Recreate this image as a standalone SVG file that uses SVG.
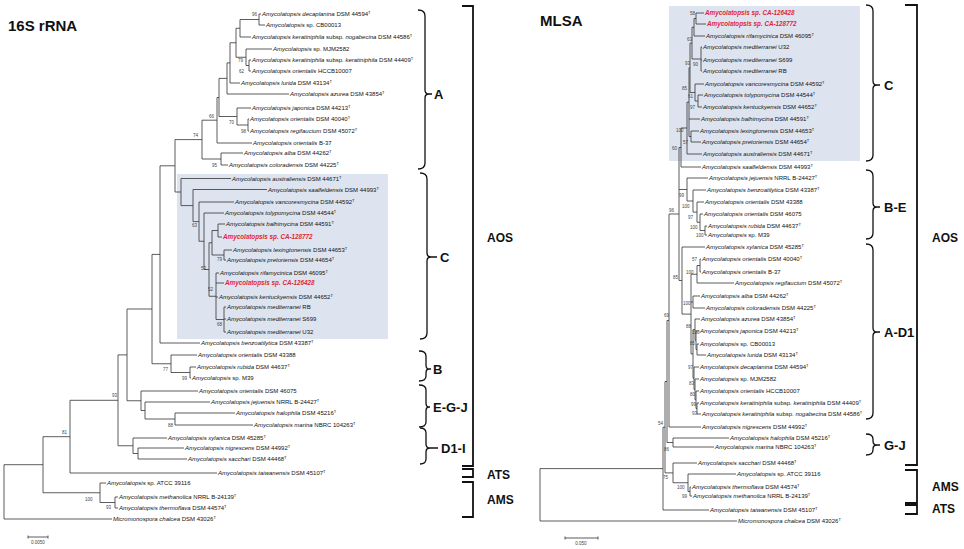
<svg xmlns="http://www.w3.org/2000/svg" width="964" height="549" viewBox="0 0 964 549">
<style>
text{font-family:"Liberation Sans",Arial,sans-serif;fill:#111}
.t{font-size:6px}
.i{font-style:italic}
.r{font-size:6.3px;font-weight:bold;font-style:italic;fill:#e3262b}
.s{font-size:4px}
.b{font-size:4.5px;fill:#444}
.cl{font-size:13px;font-weight:bold}
.big{font-size:12px;font-weight:bold}
.ti{font-size:15px;font-weight:bold}
.tree{fill:none;stroke:#333;stroke-width:0.8}
.br{fill:none;stroke:#111;stroke-width:1.3}
.sq{fill:none;stroke:#111;stroke-width:1.8}
.box{fill:#dde4f0}
</style>
<rect width="964" height="549" fill="#fff"/>
<rect class="box" x="177" y="174" width="211" height="165"/>
<rect class="box" x="669" y="6" width="191" height="155"/>
<text class="ti" x="8" y="31">16S rRNA</text>
<text class="ti" x="540" y="26">MLSA</text>
<g id="connectors">
<path class="tree" d="M259 14H261 M259 25H265 M240 37H251 M246 49H272 M249 60H251 M249 71H251 M230 83H240 M227 94H289 M237 108H251 M248 119H249 M248 131H249 M217 143H252 M221 153H243 M221 165H228 M181 178.5H231 M193 189.5H267 M199 202H234 M204 213H224 M218 224H225 M218 237H222 M224 250H232 M224 260H226 M216 273H219 M216 283H224 M216 297H218 M224 307H226 M224 319H226 M224 332H226 M160 343H200 M171 355H197 M190 367H196 M190 378H191 M141 391H198 M145 402H210 M175 413H235 M175 425H253 M133 438H167 M138 448H184 M138 459H187 M70 473H217 M100 483H106 M115 497H118 M115 508H118 M4 519H112
M259 14V25 M240 19.5H259 M240 19.5V37 M236 28.25H240 M249 60V71 M246 65.5H249 M246 49V65.5 M236 57.25H246 M236 28.25V57.25 M230 42.75H236 M230 42.75V83 M227 62.9H230 M227 62.9V94 M219 78.4H227 M248 119V131 M237 125H248 M237 108V125 M219 116.5H237 M219 78.4V116.5 M217 97.5H219 M217 97.5V143 M202 120.2H217 M221 153V165 M202 159H221 M202 120.2V159 M175 139.6H202
M224 307V332 M216 319.5H224 M216 273V319.5 M209 296.25H216 M218 224V237 M212 230.5H218 M224 250V260 M212 255H224 M212 230.5V255 M209 242.75H212 M209 242.75V296.25 M204 269.5H209 M204 213V269.5 M199 241.25H204 M199 202V241.25 M193 221.6H199 M193 189.5V221.6 M181 205.6H193 M181 178.5V205.6 M175 192H181 M175 139.6V192 M160 165.8H175 M160 165.8V343 M152 254.4H160
M190 367V378 M171 372.5H190 M171 355V372.5 M152 363.75H171 M152 254.4V363.75 M127 309H152 M175 413V425 M145 419H175 M145 402V419 M141 410.5H145 M141 391V410.5 M127 400.75H141 M127 309V400.75 M118 354.9H127 M138 448V459 M133 453.5H138 M133 438V453.5 M118 445.75H133 M118 354.9V445.75 M70 400.3H118 M70 400.3V473 M43 436.7H70 M115 497V508 M100 502.5H115 M100 483V502.5 M43 492.75H100 M43 436.7V492.75 M4 464.7H43 M4 464.7V519"/>
<path class="tree" d="M696 13H704 M696 24H706 M694 36H705 M701 47H702 M701 60H702 M701 71H702 M695 84H704 M698 95H703 M698 107H702 M689 119H700 M691 131H699 M691 142H701 M687 154H702 M681 167H701 M687 178H708 M693 190H706 M697 202H704 M700 214H703 M705 226H707 M705 235H707 M682 247H705 M700 259H701 M700 272H701 M697 283H734 M693 296H700 M693 308H705 M695 319H700 M696 331H699 M697 344H699 M697 355H706 M694 367H699 M695 379H699 M696 391H699 M697 403H699 M697 414H701 M669 427H701 M673 438H729 M673 447H714 M673 463H697 M688 474H736 M690 487H691 M690 496H692 M663 510H709 M540 521H737
M696 13V24 M694 18.5H696 M694 18.5V36 M692 27.25H694 M701 47V71 M692 59H701 M692 27.25V59 M690 43.1H692 M698 95V107 M695 101H698 M695 84V101 M690 92.5H695 M690 43.1V92.5 M689 67.8H690 M691 131V142 M689 136.5H691 M689 67.8V136.5 M687 102.1H689 M687 102.1V154 M681 128H687 M681 128V167 M679 147.5H681
M705 226V235 M700 230.5H705 M700 214V230.5 M697 222.25H700 M697 202V222.25 M693 212.1H697 M693 190V212.1 M687 201H693 M687 178V201 M679 189.5H687
M700 259V272 M697 265.5H700 M697 265.5V283 M691 274.25H697 M693 296V308 M691 302H693 M697 344V355 M696 349.5H697 M696 331V349.5 M695 340.25H696 M695 319V340.25 M693 329.6H695 M697 403V414 M696 408.5H697 M696 391V408.5 M695 399.75H696 M695 379V399.75 M694 389.4H695 M694 367V389.4 M693 378.2H694 M693 329.6V378.2 M691 353.9H693 M691 274.25V353.9 M682 314.1H691 M682 247V314.1 M679 280.5H682 M679 147.5V280.5 M669 214H679
M669 214V427 M667 320.5H669 M673 438V447 M667 442.5H673 M667 320.5V442.5 M665 381.5H667 M690 487V496 M688 491.5H690 M688 474V491.5 M673 482.75H688 M673 463V482.75 M665 472.9H673 M665 381.5V472.9 M663 427.2H665 M663 427.2V510 M540 468.6H663 M540 468.6V521"/>
<path class="tree" d="M28 537H48 M28 535.5V538.5 M48 535.5V538.5 M565 538H598 M565 536.5V539.5 M598 536.5V539.5"/>
</g>
<g id="scale">
<text class="b" x="38" y="544" text-anchor="middle">0.0050</text>
<text class="b" x="581" y="545" text-anchor="middle">0.050</text>
</g>
<g id="left-leaves">
<g id="l1"><text class="t" x="262" y="16"><tspan class="i">Amycolatopsis decaplanina</tspan> DSM 44594<tspan class="s" dy="-2">T</tspan></text></g>
<g id="l2"><text class="t" x="266" y="27"><tspan class="i">Amycolatopsis</tspan> sp. CB00013</text></g>
<g id="l3"><text class="t" x="252" y="39"><tspan class="i">Amycolatopsis keratiniphila</tspan> subsp. <tspan class="i">nogabecina</tspan> DSM 44586<tspan class="s" dy="-2">T</tspan></text></g>
<g id="l4"><text class="t" x="273" y="51"><tspan class="i">Amycolatopsis</tspan> sp. MJM2582</text></g>
<g id="l5"><text class="t" x="252" y="62"><tspan class="i">Amycolatopsis keratiniphila</tspan> subsp. <tspan class="i">keratiniphila</tspan> DSM 44409<tspan class="s" dy="-2">T</tspan></text></g>
<g id="l6"><text class="t" x="252" y="73"><tspan class="i">Amycolatopsis orientalis</tspan> HCCB10007</text></g>
<g id="l7"><text class="t" x="241" y="85"><tspan class="i">Amycolatopsis lurida</tspan> DSM 43134<tspan class="s" dy="-2">T</tspan></text></g>
<g id="l8"><text class="t" x="290" y="96"><tspan class="i">Amycolatopsis azurea</tspan> DSM 43854<tspan class="s" dy="-2">T</tspan></text></g>
<g id="l9"><text class="t" x="252" y="110"><tspan class="i">Amycolatopsis japonica</tspan> DSM 44213<tspan class="s" dy="-2">T</tspan></text></g>
<g id="l10"><text class="t" x="250" y="121"><tspan class="i">Amycolatopsis orientalis</tspan> DSM 40040<tspan class="s" dy="-2">T</tspan></text></g>
<g id="l11"><text class="t" x="250" y="133"><tspan class="i">Amycolatopsis regifaucium</tspan> DSM 45072<tspan class="s" dy="-2">T</tspan></text></g>
<g id="l12"><text class="t" x="253" y="145"><tspan class="i">Amycolatopsis orientalis</tspan> B-37</text></g>
<g id="l13"><text class="t" x="244" y="155"><tspan class="i">Amycolatopsis alba</tspan> DSM 44262<tspan class="s" dy="-2">T</tspan></text></g>
<g id="l14"><text class="t" x="229" y="167"><tspan class="i">Amycolatopsis coloradensis</tspan> DSM 44225<tspan class="s" dy="-2">T</tspan></text></g>
<g id="l15"><text class="t" x="232" y="180.5"><tspan class="i">Amycolatopsis australiensis</tspan> DSM 44671<tspan class="s" dy="-2">T</tspan></text></g>
<g id="l16"><text class="t" x="268" y="191.5"><tspan class="i">Amycolatopsis saalfeldensis</tspan> DSM 44993<tspan class="s" dy="-2">T</tspan></text></g>
<g id="l17"><text class="t" x="235" y="204"><tspan class="i">Amycolatopsis vancoresmycina</tspan> DSM 44592<tspan class="s" dy="-2">T</tspan></text></g>
<g id="l18"><text class="t" x="225" y="215"><tspan class="i">Amycolatopsis tolypomycina</tspan> DSM 44544<tspan class="s" dy="-2">T</tspan></text></g>
<g id="l19"><text class="t" x="226" y="226"><tspan class="i">Amycolatopsis balhimycina</tspan> DSM 44591<tspan class="s" dy="-2">T</tspan></text></g>
<g id="l20"><text class="r" x="223" y="239.2">Amycolatopsis sp. CA-128772</text></g>
<g id="l21"><text class="t" x="233" y="252"><tspan class="i">Amycolatopsis lexingtonensis</tspan> DSM 44653<tspan class="s" dy="-2">T</tspan></text></g>
<g id="l22"><text class="t" x="227" y="262"><tspan class="i">Amycolatopsis pretoriensis</tspan> DSM 44654<tspan class="s" dy="-2">T</tspan></text></g>
<g id="l23"><text class="t" x="220" y="275"><tspan class="i">Amycolatopsis rifamycinica</tspan> DSM 46095<tspan class="s" dy="-2">T</tspan></text></g>
<g id="l24"><text class="r" x="225" y="285.2">Amycolatopsis sp. CA-126428</text></g>
<g id="l25"><text class="t" x="219" y="299"><tspan class="i">Amycolatopsis kentuckyensis</tspan> DSM 44652<tspan class="s" dy="-2">T</tspan></text></g>
<g id="l26"><text class="t" x="227" y="309"><tspan class="i">Amycolatopsis mediterranei</tspan> RB</text></g>
<g id="l27"><text class="t" x="227" y="321"><tspan class="i">Amycolatopsis mediterranei</tspan> S699</text></g>
<g id="l28"><text class="t" x="227" y="334"><tspan class="i">Amycolatopsis mediterranei</tspan> U32</text></g>
<g id="l29"><text class="t" x="201" y="345"><tspan class="i">Amycolatopsis benzoatilytica</tspan> DSM 43387<tspan class="s" dy="-2">T</tspan></text></g>
<g id="l30"><text class="t" x="198" y="357"><tspan class="i">Amycolatopsis orientalis</tspan> DSM 43388</text></g>
<g id="l31"><text class="t" x="197" y="369"><tspan class="i">Amycolatopsis rubida</tspan> DSM 44637<tspan class="s" dy="-2">T</tspan></text></g>
<g id="l32"><text class="t" x="192" y="380"><tspan class="i">Amycolatopsis</tspan> sp. M39</text></g>
<g id="l33"><text class="t" x="199" y="393"><tspan class="i">Amycolatopsis orientalis</tspan> DSM 46075</text></g>
<g id="l34"><text class="t" x="211" y="404"><tspan class="i">Amycolatopsis jejuensis</tspan> NRRL B-24427<tspan class="s" dy="-2">T</tspan></text></g>
<g id="l35"><text class="t" x="236" y="415"><tspan class="i">Amycolatopsis halophila</tspan> DSM 45216<tspan class="s" dy="-2">T</tspan></text></g>
<g id="l36"><text class="t" x="254" y="427"><tspan class="i">Amycolatopsis marina</tspan> NBRC 104263<tspan class="s" dy="-2">T</tspan></text></g>
<g id="l37"><text class="t" x="168" y="440"><tspan class="i">Amycolatopsis xylanica</tspan> DSM 45285<tspan class="s" dy="-2">T</tspan></text></g>
<g id="l38"><text class="t" x="185" y="450"><tspan class="i">Amycolatopsis nigrescens</tspan> DSM 44992<tspan class="s" dy="-2">T</tspan></text></g>
<g id="l39"><text class="t" x="188" y="461"><tspan class="i">Amycolatopsis sacchari</tspan> DSM 44468<tspan class="s" dy="-2">T</tspan></text></g>
<g id="l40"><text class="t" x="218" y="475"><tspan class="i">Amycolatopsis taiwanensis</tspan> DSM 45107<tspan class="s" dy="-2">T</tspan></text></g>
<g id="l41"><text class="t" x="107" y="485"><tspan class="i">Amycolatopsis</tspan> sp. ATCC 39116</text></g>
<g id="l42"><text class="t" x="119" y="499"><tspan class="i">Amycolatopsis methanolica</tspan> NRRL B-24139<tspan class="s" dy="-2">T</tspan></text></g>
<g id="l43"><text class="t" x="119" y="510"><tspan class="i">Amycolatopsis thermoflava</tspan> DSM 44574<tspan class="s" dy="-2">T</tspan></text></g>
<g id="l44"><text class="t" x="113" y="521"><tspan class="i">Micromonospora chalcea</tspan> DSM 43026<tspan class="s" dy="-2">T</tspan></text></g>
</g>
<g id="right-leaves">
<g id="r1"><text class="r" x="705" y="15.2">Amycolatopsis sp. CA-126428</text></g>
<g id="r2"><text class="r" x="707" y="26.2">Amycolatopsis sp. CA-128772</text></g>
<g id="r3"><text class="t" x="706" y="38"><tspan class="i">Amycolatopsis rifamycinica</tspan> DSM 46095<tspan class="s" dy="-2">T</tspan></text></g>
<g id="r4"><text class="t" x="703" y="49"><tspan class="i">Amycolatopsis mediterranei</tspan> U32</text></g>
<g id="r5"><text class="t" x="703" y="62"><tspan class="i">Amycolatopsis mediterranei</tspan> S699</text></g>
<g id="r6"><text class="t" x="703" y="73"><tspan class="i">Amycolatopsis mediterranei</tspan> RB</text></g>
<g id="r7"><text class="t" x="705" y="86"><tspan class="i">Amycolatopsis vancoresmycina</tspan> DSM 44592<tspan class="s" dy="-2">T</tspan></text></g>
<g id="r8"><text class="t" x="704" y="97"><tspan class="i">Amycolatopsis tolypomycina</tspan> DSM 44544<tspan class="s" dy="-2">T</tspan></text></g>
<g id="r9"><text class="t" x="703" y="109"><tspan class="i">Amycolatopsis kentuckyensis</tspan> DSM 44652<tspan class="s" dy="-2">T</tspan></text></g>
<g id="r10"><text class="t" x="701" y="121"><tspan class="i">Amycolatopsis balhimycina</tspan> DSM 44591<tspan class="s" dy="-2">T</tspan></text></g>
<g id="r11"><text class="t" x="700" y="133"><tspan class="i">Amycolatopsis lexingtonensis</tspan> DSM 44653<tspan class="s" dy="-2">T</tspan></text></g>
<g id="r12"><text class="t" x="702" y="144"><tspan class="i">Amycolatopsis pretoriensis</tspan> DSM 44654<tspan class="s" dy="-2">T</tspan></text></g>
<g id="r13"><text class="t" x="703" y="156"><tspan class="i">Amycolatopsis australiensis</tspan> DSM 44671<tspan class="s" dy="-2">T</tspan></text></g>
<g id="r14"><text class="t" x="702" y="169"><tspan class="i">Amycolatopsis saalfeldensis</tspan> DSM 44993<tspan class="s" dy="-2">T</tspan></text></g>
<g id="r15"><text class="t" x="709" y="180"><tspan class="i">Amycolatopsis jejuensis</tspan> NRRL B-24427<tspan class="s" dy="-2">T</tspan></text></g>
<g id="r16"><text class="t" x="707" y="192"><tspan class="i">Amycolatopsis benzoatilytica</tspan> DSM 43387<tspan class="s" dy="-2">T</tspan></text></g>
<g id="r17"><text class="t" x="705" y="204"><tspan class="i">Amycolatopsis orientalis</tspan> DSM 43388</text></g>
<g id="r18"><text class="t" x="704" y="216"><tspan class="i">Amycolatopsis orientalis</tspan> DSM 46075</text></g>
<g id="r19"><text class="t" x="708" y="228"><tspan class="i">Amycolatopsis rubida</tspan> DSM 44637<tspan class="s" dy="-2">T</tspan></text></g>
<g id="r20"><text class="t" x="708" y="237"><tspan class="i">Amycolatopsis</tspan> sp. M39</text></g>
<g id="r21"><text class="t" x="706" y="249"><tspan class="i">Amycolatopsis xylanica</tspan> DSM 45285<tspan class="s" dy="-2">T</tspan></text></g>
<g id="r22"><text class="t" x="702" y="261"><tspan class="i">Amycolatopsis orientalis</tspan> DSM 40040<tspan class="s" dy="-2">T</tspan></text></g>
<g id="r23"><text class="t" x="702" y="274"><tspan class="i">Amycolatopsis orientalis</tspan> B-37</text></g>
<g id="r24"><text class="t" x="735" y="285"><tspan class="i">Amycolatopsis regifaucium</tspan> DSM 45072<tspan class="s" dy="-2">T</tspan></text></g>
<g id="r25"><text class="t" x="701" y="298"><tspan class="i">Amycolatopsis alba</tspan> DSM 44262<tspan class="s" dy="-2">T</tspan></text></g>
<g id="r26"><text class="t" x="706" y="310"><tspan class="i">Amycolatopsis coloradensis</tspan> DSM 44225<tspan class="s" dy="-2">T</tspan></text></g>
<g id="r27"><text class="t" x="701" y="321"><tspan class="i">Amycolatopsis azurea</tspan> DSM 43854<tspan class="s" dy="-2">T</tspan></text></g>
<g id="r28"><text class="t" x="700" y="333"><tspan class="i">Amycolatopsis japonica</tspan> DSM 44213<tspan class="s" dy="-2">T</tspan></text></g>
<g id="r29"><text class="t" x="700" y="346"><tspan class="i">Amycolatopsis</tspan> sp. CB00013</text></g>
<g id="r30"><text class="t" x="707" y="357"><tspan class="i">Amycolatopsis lurida</tspan> DSM 43134<tspan class="s" dy="-2">T</tspan></text></g>
<g id="r31"><text class="t" x="700" y="369"><tspan class="i">Amycolatopsis decaplanina</tspan> DSM 44594<tspan class="s" dy="-2">T</tspan></text></g>
<g id="r32"><text class="t" x="700" y="381"><tspan class="i">Amycolatopsis</tspan> sp. MJM2582</text></g>
<g id="r33"><text class="t" x="700" y="393"><tspan class="i">Amycolatopsis orientalis</tspan> HCCB10007</text></g>
<g id="r34"><text class="t" x="700" y="405"><tspan class="i">Amycolatopsis keratiniphila</tspan> subsp. <tspan class="i">keratiniphila</tspan> DSM 44409<tspan class="s" dy="-2">T</tspan></text></g>
<g id="r35"><text class="t" x="702" y="416"><tspan class="i">Amycolatopsis keratiniphila</tspan> subsp. <tspan class="i">nogabecina</tspan> DSM 44586<tspan class="s" dy="-2">T</tspan></text></g>
<g id="r36"><text class="t" x="702" y="429"><tspan class="i">Amycolatopsis nigrescens</tspan> DSM 44992<tspan class="s" dy="-2">T</tspan></text></g>
<g id="r37"><text class="t" x="730" y="440"><tspan class="i">Amycolatopsis halophila</tspan> DSM 45216<tspan class="s" dy="-2">T</tspan></text></g>
<g id="r38"><text class="t" x="715" y="449"><tspan class="i">Amycolatopsis marina</tspan> NBRC 104263<tspan class="s" dy="-2">T</tspan></text></g>
<g id="r39"><text class="t" x="698" y="465"><tspan class="i">Amycolatopsis sacchari</tspan> DSM 44468<tspan class="s" dy="-2">T</tspan></text></g>
<g id="r40"><text class="t" x="737" y="476"><tspan class="i">Amycolatopsis</tspan> sp. ATCC 39116</text></g>
<g id="r41"><text class="t" x="692" y="489"><tspan class="i">Amycolatopsis thermoflava</tspan> DSM 44574<tspan class="s" dy="-2">T</tspan></text></g>
<g id="r42"><text class="t" x="693" y="498"><tspan class="i">Amycolatopsis methanolica</tspan> NRRL B-24139<tspan class="s" dy="-2">T</tspan></text></g>
<g id="r43"><text class="t" x="710" y="512"><tspan class="i">Amycolatopsis taiwanensis</tspan> DSM 45107<tspan class="s" dy="-2">T</tspan></text></g>
<g id="r44"><text class="t" x="738" y="523"><tspan class="i">Micromonospora chalcea</tspan> DSM 43026<tspan class="s" dy="-2">T</tspan></text></g>
</g>
<g id="bootstrap-left">
<text class="b" x="252" y="15.6">96</text><text class="b" x="238" y="61.6">79</text><text class="b" x="239" y="72.6">62</text>
<text class="b" x="209" y="117.6">66</text><text class="b" x="229" y="123.6">70</text><text class="b" x="241" y="132.6">98</text>
<text class="b" x="193" y="136.6">74</text><text class="b" x="212" y="166.6">95</text><text class="b" x="192" y="226.6">63</text>
<text class="b" x="217" y="260.6">79</text><text class="b" x="201" y="269.6">53</text><text class="b" x="208" y="290.6">52</text>
<text class="b" x="217" y="325.6">68</text><text class="b" x="163" y="370.6">77</text><text class="b" x="182" y="379.6">99</text>
<text class="b" x="112" y="396.6">93</text><text class="b" x="168" y="426.6">88</text><text class="b" x="62" y="433.6">81</text>
<text class="b" x="85" y="500.6">100</text><text class="b" x="106" y="508.6">93</text>
</g>
<g id="bootstrap-right">
<text class="b" x="690" y="14.6">58</text><text class="b" x="687" y="40.6">63</text><text class="b" x="685" y="64.6">93</text>
<text class="b" x="693" y="65.6">90</text><text class="b" x="682" y="89.6">85</text><text class="b" x="688" y="97.6">61</text>
<text class="b" x="690" y="108.6">97</text><text class="b" x="676" y="131.6">100</text><text class="b" x="683" y="143.6">57</text>
<text class="b" x="672" y="149.6">60</text><text class="b" x="679" y="196.6">99</text><text class="b" x="669" y="211.6">96</text>
<text class="b" x="682" y="207.6">100</text><text class="b" x="688" y="218.6">97</text><text class="b" x="690" y="228.6">100</text>
<text class="b" x="696" y="236.6">100</text><text class="b" x="692" y="260.6">57</text><text class="b" x="686" y="273.6">100</text>
<text class="b" x="673" y="278.6">85</text><text class="b" x="683" y="304.6">100</text><text class="b" x="664" y="316.6">69</text>
<text class="b" x="686" y="327.6">88</text><text class="b" x="692" y="333.6">100</text><text class="b" x="690" y="344.6">85</text>
<text class="b" x="688" y="368.6">97</text><text class="b" x="689" y="384.6">83</text><text class="b" x="690" y="395.6">80</text>
<text class="b" x="691" y="405.6">99</text><text class="b" x="692" y="414.6">93</text><text class="b" x="658" y="424.6">54</text>
<text class="b" x="664" y="450.6">86</text><text class="b" x="663" y="478.6">75</text><text class="b" x="677" y="488.6">100</text>
<text class="b" x="682" y="497.6">99</text>
</g>
<g id="clade-A"><path class="br" d="M418 10Q425 10 425 16V90Q425 94 429 94H432M429 94Q425 94 425 98V163Q425 169 418 169"/><text class="cl" x="434" y="98.7">A</text></g>
<g id="clade-C-left"><path class="br" d="M420 173Q427 173 427 179V253Q427 257 431 257H437M431 257Q427 257 427 261V333Q427 339 420 339"/><text class="cl" x="440" y="261.7">C</text></g>
<g id="clade-B"><path class="br" d="M419 351Q426 351 426 356V365Q426 369 429 369H431M429 369Q426 369 426 373V376Q426 381 419 381"/><text class="cl" x="433" y="373.7">B</text></g>
<g id="clade-EGJ"><path class="br" d="M419 385Q426 385 426 390V403Q426 407 429 407H430M429 407Q426 407 426 411V422Q426 427 419 427"/><text class="cl" x="433" y="411.7">E-G-J</text></g>
<g id="clade-D1I"><path class="br" d="M420 428Q426 428 426 433V444Q426 448 430 448H438M430 448Q426 448 426 452V459Q426 464 420 464"/><text class="cl" x="441" y="452.7">D1-I</text></g>
<g id="group-AOS-left"><path class="sq" d="M462 6H473V466H462"/><text class="big" x="487" y="242.3">AOS</text></g>
<g id="group-ATS-left"><path class="sq" d="M462 469H473V477H462"/><text class="big" x="487" y="479.3">ATS</text></g>
<g id="group-AMS-left"><path class="sq" d="M462 482H473V517H462"/><text class="big" x="487" y="504.3">AMS</text></g>
<g id="clade-C-right"><path class="br" d="M866 5Q873 5 873 11V81Q873 85 877 85H880M877 85Q873 85 873 89V155Q873 161 866 161"/><text class="cl" x="884" y="89.7">C</text></g>
<g id="clade-BE"><path class="br" d="M866 170Q873 170 873 176V203Q873 207 877 207H880M877 207Q873 207 873 211V233Q873 239 866 239"/><text class="cl" x="884" y="211.7">B-E</text></g>
<g id="clade-AD1"><path class="br" d="M866 244Q873 244 873 250V328Q873 332 877 332H880M877 332Q873 332 873 336V413Q873 419 866 419"/><text class="cl" x="884" y="336.7">A-D1</text></g>
<g id="clade-GJ"><path class="br" d="M866 434Q873 434 873 439V441Q873 445 877 445H880M877 445Q873 445 873 449V450Q873 455 866 455"/><text class="cl" x="884" y="449.7">G-J</text></g>
<g id="group-AOS-right"><path class="sq" d="M905 5H917V465H905"/><text class="big" x="932" y="242.3">AOS</text></g>
<g id="group-AMS-right"><path class="sq" d="M905 470H917V503H905"/><text class="big" x="932" y="491.3">AMS</text></g>
<g id="group-ATS-right"><path class="sq" d="M905 505H917V514H905"/><text class="big" x="932" y="513.3">ATS</text></g>
</svg>
